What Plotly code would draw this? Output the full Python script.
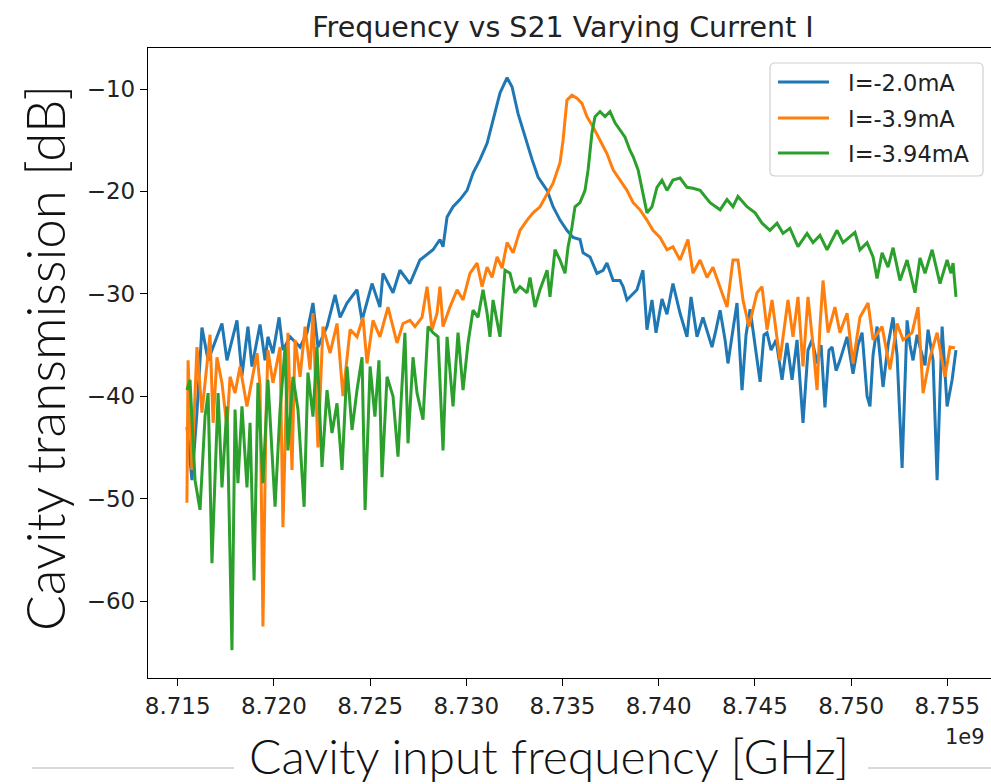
import plotly.graph_objects as go

# Cavity transmission (S21) vs drive frequency for three bias currents
SERIES_NAMES = ["I=-2.0mA", "I=-3.9mA", "I=-3.94mA"]
SERIES_COLORS = ["#1f77b4", "#ff7f0e", "#2ca02c"]

freq_i20 = [8.71548, 8.71574, 8.71600, 8.71626, 8.71658, 8.71730, 8.71756, 8.71808, 8.71834, 8.71865,
            8.71886, 8.71928, 8.71954, 8.71969, 8.71995, 8.72027, 8.72047, 8.72084, 8.72136, 8.72172,
            8.72203, 8.72229, 8.72276, 8.72318, 8.72344, 8.72380, 8.72432, 8.72458, 8.72510, 8.72551,
            8.72567, 8.72619, 8.72655, 8.72707, 8.72759, 8.72827, 8.72863, 8.72879, 8.72900, 8.72931,
            8.72967, 8.73004, 8.73035, 8.73071, 8.73108, 8.73139, 8.73175, 8.73212, 8.73238, 8.73269,
            8.73305, 8.73342, 8.73373, 8.73420, 8.73451, 8.73487, 8.73523, 8.73555, 8.73591, 8.73607,
            8.73643, 8.73679, 8.73711, 8.73731, 8.73763, 8.73799, 8.73815, 8.73835, 8.73887, 8.73918,
            8.73939, 8.73965, 8.73986, 8.74017, 8.74043, 8.74074, 8.74111, 8.74147, 8.74168, 8.74199,
            8.74230, 8.74256, 8.74277, 8.74298, 8.74319, 8.74345, 8.74360, 8.74386, 8.74407, 8.74433,
            8.74454, 8.74475, 8.74501, 8.74527, 8.74547, 8.74563, 8.74584, 8.74610, 8.74641, 8.74667,
            8.74693, 8.74719, 8.74750, 8.74776, 8.74797, 8.74823, 8.74844, 8.74864, 8.74885, 8.74901,
            8.74922, 8.74942, 8.74979, 8.74994, 8.75010, 8.75036, 8.75057, 8.75083, 8.75098, 8.75114,
            8.75135, 8.75150, 8.75166, 8.75192, 8.75218, 8.75239, 8.75265, 8.75291, 8.75306, 8.75322,
            8.75343, 8.75358, 8.75384, 8.75400, 8.75426, 8.75447, 8.75473, 8.75499, 8.75525, 8.75545]
s21_i20 = [-43.0, -48.2, -41.6, -33.3, -36.5, -32.9, -36.5, -32.6, -38.0, -33.2,
           -37.1, -33.0, -36.5, -34.2, -35.8, -32.3, -35.5, -34.2, -35.2, -33.8,
           -30.9, -35.2, -33.2, -30.1, -32.3, -30.9, -29.6, -32.6, -29.0, -31.3,
           -28.0, -29.9, -27.7, -29.0, -26.7, -25.7, -24.7, -25.4, -22.5, -21.5,
           -20.8, -19.9, -18.2, -16.9, -15.3, -13.0, -10.4, -8.9, -9.8, -12.4,
           -14.7, -16.9, -18.6, -19.9, -21.5, -22.8, -23.8, -24.5, -24.7, -26.0,
           -26.4, -28.0, -27.7, -27.0, -28.7, -28.7, -29.3, -30.6, -29.6, -27.7,
           -33.5, -30.6, -33.8, -30.5, -32.0, -29.0, -31.9, -34.2, -30.3, -34.2,
           -32.3, -34.0, -35.2, -33.5, -31.6, -34.5, -36.8, -33.5, -30.9, -39.4,
           -34.0, -31.5, -35.0, -38.6, -34.0, -33.8, -35.5, -34.5, -38.4, -34.8,
           -38.4, -34.5, -42.6, -35.5, -34.5, -36.8, -35.0, -41.1, -35.5, -35.2,
           -37.5, -36.5, -34.2, -36.0, -37.8, -35.0, -33.8, -40.0, -41.0, -36.0,
           -33.2, -36.0, -39.1, -35.0, -32.3, -36.0, -47.0, -32.6, -35.0, -36.5,
           -34.0, -35.2, -37.0, -33.5, -36.5, -48.2, -33.2, -41.0, -38.4, -35.5]

freq_i39 = [8.71548, 8.71554, 8.71574, 8.71600, 8.71626, 8.71668, 8.71684, 8.71704, 8.71730, 8.71756,
            8.71772, 8.71798, 8.71824, 8.71860, 8.71912, 8.71928, 8.71943, 8.71959, 8.71969, 8.71995,
            8.72032, 8.72047, 8.72073, 8.72094, 8.72110, 8.72136, 8.72162, 8.72188, 8.72203, 8.72229,
            8.72255, 8.72292, 8.72328, 8.72359, 8.72396, 8.72432, 8.72463, 8.72484, 8.72515, 8.72551,
            8.72593, 8.72640, 8.72671, 8.72707, 8.72733, 8.72770, 8.72796, 8.72822, 8.72848, 8.72863,
            8.72879, 8.72915, 8.72952, 8.72983, 8.73019, 8.73056, 8.73082, 8.73108, 8.73134, 8.73160,
            8.73186, 8.73212, 8.73243, 8.73279, 8.73316, 8.73347, 8.73383, 8.73420, 8.73451, 8.73487,
            8.73503, 8.73523, 8.73549, 8.73575, 8.73601, 8.73627, 8.73659, 8.73695, 8.73731, 8.73763,
            8.73799, 8.73835, 8.73867, 8.73903, 8.73939, 8.73970, 8.74007, 8.74043, 8.74074, 8.74111,
            8.74152, 8.74178, 8.74215, 8.74251, 8.74282, 8.74319, 8.74355, 8.74386, 8.74412, 8.74438,
            8.74469, 8.74511, 8.74537, 8.74563, 8.74589, 8.74630, 8.74672, 8.74698, 8.74724, 8.74750,
            8.74776, 8.74802, 8.74823, 8.74838, 8.74854, 8.74880, 8.74916, 8.74942, 8.74979, 8.75010,
            8.75046, 8.75088, 8.75114, 8.75161, 8.75202, 8.75239, 8.75270, 8.75317, 8.75348, 8.75374,
            8.75410, 8.75447, 8.75488, 8.75514, 8.75540]
s21_i39 = [-50.4, -36.5, -47.2, -35.2, -41.6, -34.0, -42.6, -36.2, -38.7, -43.0,
           -38.1, -39.7, -37.1, -41.0, -35.8, -39.0, -62.5, -42.0, -35.5, -38.7,
           -35.2, -52.8, -33.8, -47.2, -34.5, -38.1, -33.2, -37.4, -31.9, -45.0,
           -33.2, -35.8, -32.9, -40.0, -33.5, -34.2, -32.3, -36.8, -32.6, -34.2,
           -31.3, -34.8, -32.9, -32.6, -33.2, -32.3, -29.3, -33.5, -31.9, -29.3,
           -33.2, -31.3, -29.6, -30.6, -28.0, -27.0, -29.3, -27.4, -28.4, -26.4,
           -27.5, -25.0, -26.0, -23.8, -22.8, -22.1, -21.5, -20.2, -19.2, -17.2,
           -15.0, -11.1, -10.6, -10.9, -11.4, -12.7, -13.7, -15.0, -16.3, -17.9,
           -18.9, -19.9, -21.1, -21.8, -22.8, -23.8, -24.5, -25.7, -25.4, -26.7,
           -24.7, -28.0, -26.7, -28.4, -27.4, -29.3, -31.3, -26.7, -26.7, -30.6,
           -33.2, -29.9, -29.3, -33.5, -30.6, -36.5, -30.6, -34.2, -30.3, -37.1,
           -30.3, -35.0, -39.4, -33.2, -28.7, -33.8, -31.3, -33.8, -31.9, -36.8,
           -32.3, -30.9, -34.5, -33.2, -37.4, -32.9, -34.5, -33.8, -31.3, -39.7,
           -36.2, -33.8, -38.1, -35.2, -35.3]

freq_i394 = [8.71548, 8.71564, 8.71590, 8.71616, 8.71642, 8.71658, 8.71678, 8.71710, 8.71730, 8.71756,
             8.71782, 8.71798, 8.71813, 8.71834, 8.71860, 8.71876, 8.71897, 8.71917, 8.71943, 8.71969,
             8.72006, 8.72032, 8.72058, 8.72073, 8.72099, 8.72125, 8.72157, 8.72177, 8.72203, 8.72224,
             8.72250, 8.72276, 8.72302, 8.72328, 8.72354, 8.72380, 8.72406, 8.72432, 8.72458, 8.72474,
             8.72500, 8.72525, 8.72546, 8.72562, 8.72588, 8.72619, 8.72645, 8.72681, 8.72697, 8.72723,
             8.72744, 8.72775, 8.72801, 8.72827, 8.72853, 8.72879, 8.72900, 8.72931, 8.72957, 8.72983,
             8.73009, 8.73035, 8.73061, 8.73087, 8.73108, 8.73123, 8.73139, 8.73175, 8.73201, 8.73227,
             8.73253, 8.73279, 8.73316, 8.73331, 8.73357, 8.73383, 8.73420, 8.73435, 8.73461, 8.73487,
             8.73513, 8.73529, 8.73549, 8.73565, 8.73591, 8.73617, 8.73633, 8.73653, 8.73669, 8.73695,
             8.73721, 8.73747, 8.73773, 8.73799, 8.73825, 8.73851, 8.73867, 8.73893, 8.73918, 8.73939,
             8.73965, 8.73991, 8.74017, 8.74043, 8.74074, 8.74111, 8.74147, 8.74178, 8.74215, 8.74267,
             8.74319, 8.74355, 8.74386, 8.74412, 8.74459, 8.74501, 8.74537, 8.74578, 8.74615, 8.74646,
             8.74682, 8.74724, 8.74771, 8.74802, 8.74838, 8.74875, 8.74927, 8.74958, 8.75020, 8.75046,
             8.75083, 8.75114, 8.75135, 8.75161, 8.75192, 8.75218, 8.75254, 8.75291, 8.75332, 8.75358,
             8.75384, 8.75421, 8.75462, 8.75499, 8.75519, 8.75530, 8.75545]
s21_i394 = [-39.4, -38.4, -48.2, -51.1, -42.0, -39.7, -56.3, -39.7, -48.9, -41.0,
            -64.8, -41.3, -48.5, -41.0, -48.9, -42.6, -58.0, -38.7, -48.5, -38.4,
            -50.8, -41.3, -35.2, -45.3, -38.1, -41.3, -50.8, -37.7, -42.0, -35.2,
            -46.9, -39.4, -43.6, -40.7, -47.2, -37.1, -43.3, -39.4, -36.2, -51.1,
            -37.1, -42.0, -36.5, -47.9, -38.1, -40.0, -45.9, -33.8, -44.6, -36.2,
            -39.7, -42.3, -33.2, -33.8, -34.2, -45.3, -34.2, -41.0, -33.8, -39.4,
            -34.8, -31.6, -32.3, -29.6, -31.9, -34.2, -30.6, -34.2, -27.7, -28.0,
            -29.9, -29.3, -29.9, -28.4, -31.3, -29.6, -27.7, -30.3, -25.7, -26.7,
            -28.0, -25.4, -23.5, -21.5, -21.1, -19.9, -17.9, -14.3, -12.7, -12.2,
            -12.7, -12.2, -13.3, -14.0, -14.7, -16.0, -16.6, -17.9, -20.2, -22.1,
            -21.5, -19.6, -18.9, -19.9, -18.9, -18.7, -19.6, -19.7, -19.9, -21.1,
            -21.8, -20.8, -21.5, -20.5, -21.5, -22.1, -23.1, -23.8, -23.1, -24.1,
            -23.6, -25.4, -24.1, -25.0, -24.3, -25.7, -23.8, -25.0, -24.0, -25.7,
            -25.0, -26.4, -28.5, -26.0, -27.4, -25.5, -28.7, -26.7, -29.9, -26.5,
            -28.0, -25.7, -29.0, -26.7, -28.0, -27.0, -30.3]

X_TICKS = [8.715, 8.720, 8.725, 8.730, 8.735, 8.740, 8.745, 8.750, 8.755]
X_TICK_TEXT = ["8.715", "8.720", "8.725", "8.730", "8.735", "8.740", "8.745", "8.750", "8.755"]
Y_TICKS = [-10, -20, -30, -40, -50, -60]
Y_TICK_TEXT = ["\u221210", "\u221220", "\u221230", "\u221240", "\u221250", "\u221260"]

series = [(freq_i20, s21_i20), (freq_i39, s21_i39), (freq_i394, s21_i394)]

fig = go.Figure()
for (fx, sy), name, color in zip(series, SERIES_NAMES, SERIES_COLORS):
    assert len(fx) == len(sy), name
    fig.add_trace(go.Scatter(x=fx, y=sy, mode="lines", name=name, showlegend=False,
                             line=dict(color=color, width=3)))

W, H = 991, 784
L, R, T, B = 148, 0, 48, 106
PW, PH = W - L - R, H - T - B


def px(x):
    return (x - L) / PW


def py(y):
    return (H - B - y) / PH


tick_font = dict(family="DejaVu Sans", size=23, color="#222222")

fig.update_layout(
    width=W, height=H,
    margin=dict(l=L, r=R, t=T, b=B, pad=0),
    paper_bgcolor="white", plot_bgcolor="white",
    title=dict(text="Frequency vs S21 Varying Current I", x=563 / W, xref="container", xanchor="center",
               y=1 - 27 / H, yref="container", yanchor="middle",
               font=dict(family="DejaVu Sans", size=28.5, color="#222222")),
    xaxis=dict(range=[8.713456, 8.757271], tickvals=X_TICKS, ticktext=X_TICK_TEXT,
               showgrid=False, zeroline=False, showline=True, linecolor="black", linewidth=1.4,
               mirror=True, ticks="outside", ticklen=7, tickwidth=1.4, tickcolor="black",
               tickfont=tick_font),
    yaxis=dict(range=[-67.52, -5.996], tickvals=Y_TICKS, ticktext=Y_TICK_TEXT,
               showgrid=False, zeroline=False, showline=True, linecolor="black", linewidth=1.4,
               mirror=False, ticks="outside", ticklen=7, tickwidth=1.4, tickcolor="black",
               tickfont=tick_font),
)

annotations = [
    dict(text="Cavity input frequency [GHz]", x=px(549), y=py(755), xref="paper", yref="paper",
         xanchor="center", yanchor="middle", showarrow=False,
         font=dict(family="Lato", size=48, color="#111111", weight=300)),
    dict(text="Cavity transmission [dB]", x=px(44), y=py(358), xref="paper", yref="paper",
         xanchor="center", yanchor="middle", textangle=-90, showarrow=False,
         font=dict(family="Lato", size=53, color="#111111", weight=300)),
    dict(text="1e9", x=px(965), y=py(737), xref="paper", yref="paper",
         xanchor="center", yanchor="middle", showarrow=False,
         font=dict(family="DejaVu Sans", size=21, color="#222222")),
]

shapes = [
    dict(type="line", xref="paper", yref="paper", x0=px(32), x1=px(234), y0=py(768), y1=py(768),
         line=dict(color="#b4b4b4", width=1)),
    dict(type="line", xref="paper", yref="paper", x0=px(868), x1=px(991), y0=py(768), y1=py(768),
         line=dict(color="#b4b4b4", width=1)),
]

# legend frame with rounded corners
bx0, bx1, by0, by1, rad = 770, 983, 63, 176, 5
path = (f"M {px(bx0 + rad)},{py(by0)} L {px(bx1 - rad)},{py(by0)} "
        f"Q {px(bx1)},{py(by0)} {px(bx1)},{py(by0 + rad)} L {px(bx1)},{py(by1 - rad)} "
        f"Q {px(bx1)},{py(by1)} {px(bx1 - rad)},{py(by1)} L {px(bx0 + rad)},{py(by1)} "
        f"Q {px(bx0)},{py(by1)} {px(bx0)},{py(by1 - rad)} L {px(bx0)},{py(by0 + rad)} "
        f"Q {px(bx0)},{py(by0)} {px(bx0 + rad)},{py(by0)} Z")
shapes.append(dict(type="path", xref="paper", yref="paper", path=path,
                   line=dict(color="#d0d0d0", width=1.2), fillcolor="rgba(255,255,255,0.85)"))

row_y = [82, 118, 153]
for name, color, ry in zip(SERIES_NAMES, SERIES_COLORS, row_y):
    shapes.append(dict(type="line", xref="paper", yref="paper", x0=px(778), x1=px(829),
                       y0=py(ry), y1=py(ry), line=dict(color=color, width=3)))
    annotations.append(dict(text=name, x=px(846), y=py(ry + 1), xref="paper", yref="paper",
                            xanchor="left", yanchor="middle", showarrow=False,
                            font=dict(family="DejaVu Sans", size=22.5, color="#222222")))

fig.update_layout(annotations=annotations, shapes=shapes)
fig.write_html("out.html")
